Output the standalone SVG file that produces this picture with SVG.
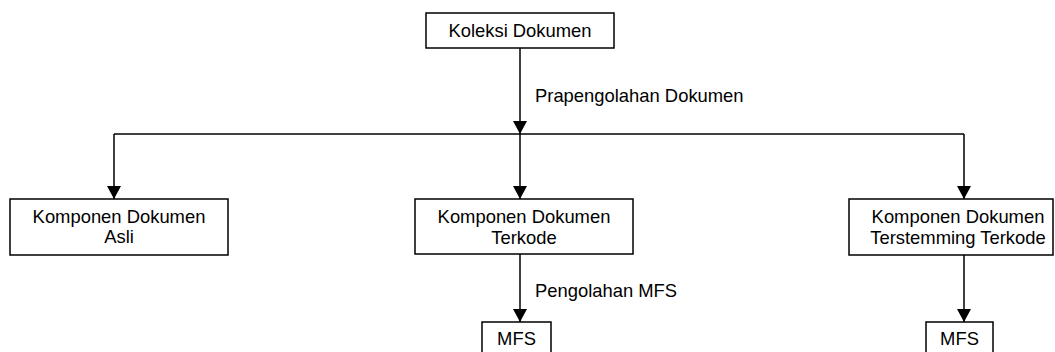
<svg xmlns="http://www.w3.org/2000/svg" width="1055" height="352" viewBox="0 0 1055 352">
<defs>
<style>
.box{fill:#fff;stroke:#000;stroke-width:1.5}
.t{font-family:"Liberation Sans",Arial,sans-serif;font-size:18.4px;fill:#000}
.c{text-anchor:middle}
.ln{fill:none;stroke:#000;stroke-width:1.5}
</style>
<marker id="ah" viewBox="0 0 13 14" refX="13" refY="7" markerWidth="13" markerHeight="14" markerUnits="userSpaceOnUse" orient="auto">
<path d="M0,0 L13,7 L0,14 Z" fill="#000"/>
</marker>
</defs>
<rect width="1055" height="352" fill="#fff"/>
<g id="connectors">
<line class="ln" x1="520" y1="48" x2="520" y2="134" marker-end="url(#ah)"/>
<line class="ln" x1="114" y1="134" x2="964" y2="134"/>
<line class="ln" x1="114" y1="134" x2="114" y2="199" marker-end="url(#ah)"/>
<line class="ln" x1="520" y1="134" x2="520" y2="199" marker-end="url(#ah)"/>
<line class="ln" x1="964" y1="134" x2="964" y2="199" marker-end="url(#ah)"/>
<line class="ln" x1="520" y1="254" x2="520" y2="322" marker-end="url(#ah)"/>
<line class="ln" x1="964" y1="255" x2="964" y2="322" marker-end="url(#ah)"/>
<text class="t" x="535" y="102">Prapengolahan Dokumen</text>
<text class="t" x="535" y="297">Pengolahan MFS</text>
</g>
<g id="koleksi">
<rect class="box" x="426" y="13" width="188" height="35"/>
<text class="t c" x="520" y="37">Koleksi Dokumen</text>
</g>
<g id="asli">
<rect class="box" x="10" y="199" width="218" height="56"/>
<text class="t c" x="119" y="223">Komponen Dokumen</text>
<text class="t c" x="119" y="243">Asli</text>
</g>
<g id="terkode">
<rect class="box" x="415" y="199" width="218" height="55"/>
<text class="t c" x="524" y="223">Komponen Dokumen</text>
<text class="t c" x="524" y="244">Terkode</text>
</g>
<g id="terstemming">
<rect class="box" x="849" y="199" width="204" height="56"/>
<text class="t c" x="958" y="223">Komponen Dokumen</text>
<text class="t c" x="958" y="244">Terstemming Terkode</text>
</g>
<g id="mfs1">
<rect class="box" x="482" y="322" width="69" height="34"/>
<text class="t c" x="516.5" y="345">MFS</text>
</g>
<g id="mfs2">
<rect class="box" x="926" y="322" width="67" height="34"/>
<text class="t c" x="959.5" y="345">MFS</text>
</g>
</svg>
